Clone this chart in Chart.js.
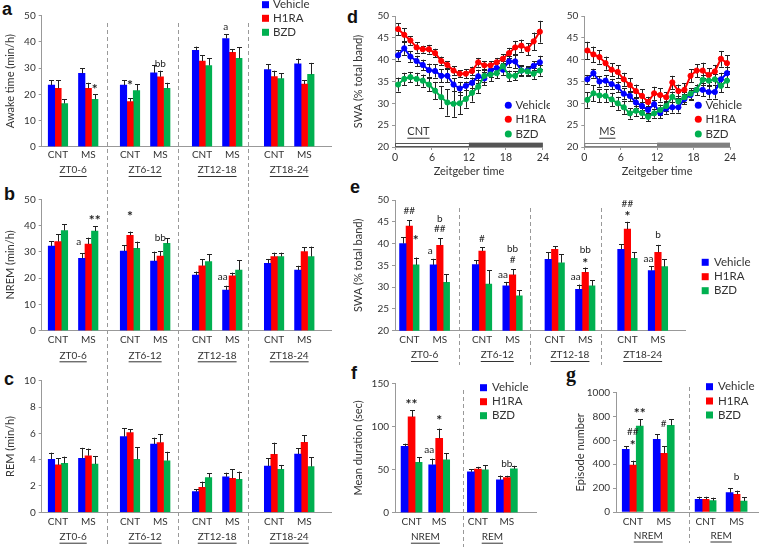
<!DOCTYPE html>
<html>
<head>
<meta charset="utf-8">
<script src="https://cdn.jsdelivr.net/npm/chart.js@4.4.1/dist/chart.umd.min.js"></script>
<style>
  body { margin: 0; background: #fff; width: 760px; height: 548px; position: relative; overflow: hidden; }
  .tag { position: absolute; font: bold 18px "Liberation Sans", Arial, sans-serif; line-height: 18px; color: #111; }
</style>
</head>
<body>
<div class="tag" style="left:2px;top:0px">a</div>
<div class="tag" style="left:4px;top:185px">b</div>
<div class="tag" style="left:4px;top:370px">c</div>
<div class="tag" style="left:347px;top:8px">d</div>
<div class="tag" style="left:350px;top:178px">e</div>
<div class="tag" style="left:351px;top:364px">f</div>
<div class="tag" style="left:566px;top:365px;font-family:'Liberation Serif',serif;font-size:20px">g</div>
<script>
const treatments = ['Vehicle', 'H1RA', 'BZD'];
const groupLabels = ['CNT', 'MS', 'CNT', 'MS', 'CNT', 'MS', 'CNT', 'MS'];
const ztLabels = ['ZT0-6', 'ZT6-12', 'ZT12-18', 'ZT18-24'];
const stageGroups = ['CNT', 'MS', 'CNT', 'MS'];
const stageLabels = ['NREM', 'REM'];
const hours = [0.5, 1.5, 2.5, 3.5, 4.5, 5.5, 6.5, 7.5, 8.5, 9.5, 10.5, 11.5,
               12.5, 13.5, 14.5, 15.5, 16.5, 17.5, 18.5, 19.5, 20.5, 21.5, 22.5, 23.5];
const hourTicks = [0, 6, 12, 18, 24];

// a: awake time (min/h) -- CNT, MS for each ZT block
const awakeVehicle = [23.5, 28.0, 23.5, 28.2, 36.8, 41.3, 29.4, 31.6];
const awakeVehicleErr = [1.9, 1.9, 1.9, 3.0, 1.4, 1.7, 2.0, 2.0];
const awakeH1RA = [22.3, 22.3, 17.2, 26.7, 32.7, 36.0, 26.8, 23.9];
const awakeH1RAErr = [3.1, 2.1, 1.2, 2.3, 2.3, 1.3, 2.2, 1.5];
const awakeBZD = [16.5, 18.1, 21.4, 22.3, 31.0, 33.7, 26.0, 27.6];
const awakeBZDErr = [1.6, 1.9, 2.5, 2.1, 2.7, 4.2, 2.1, 4.4];
const awakeMarks = [[2, 1, '*', 23.2], [1, 2, '*', 24.8], [1, 3, 'bb', 31.8], [0, 5, 'a', 45.8]];

// b: NREM (min/h)
const nremVehicle = [32.2, 27.5, 30.3, 26.5, 21.2, 15.5, 25.6, 23.1];
const nremVehicleErr = [1.9, 2.0, 2.3, 3.6, 1.3, 1.6, 1.7, 1.6];
const nremH1RA = [33.9, 33.0, 36.3, 28.4, 24.7, 20.9, 28.2, 30.1];
const nremH1RAErr = [2.8, 2.4, 1.4, 1.9, 2.5, 1.2, 1.5, 1.6];
const nremBZD = [38.1, 37.9, 31.3, 33.2, 26.3, 23.1, 28.2, 28.2];
const nremBZDErr = [2.4, 1.9, 2.6, 2.0, 2.8, 3.8, 1.5, 3.8];
const nremMarks = [[0, 1, 'a', 34.0, 'l'], [2, 1, '**', 43.4], [1, 2, '*', 44.7], [1, 3, 'bb', 35.2], [0, 5, 'aa', 20.6, 'l']];

// c: REM (min/h)
const remVehicle = [4.03, 4.1, 5.75, 5.19, 1.57, 2.7, 3.52, 4.43];
const remVehicleErr = [0.5, 0.8, 0.63, 0.48, 0.2, 0.31, 0.58, 0.43];
const remH1RA = [3.6, 4.3, 6.05, 5.29, 1.9, 2.58, 4.4, 5.32];
const remH1RAErr = [0.5, 0.54, 0.25, 0.66, 0.43, 0.69, 0.89, 0.55];
const remBZD = [3.72, 3.67, 4.03, 3.92, 2.63, 2.5, 3.27, 3.47];
const remBZDErr = [0.51, 0.61, 0.91, 0.68, 0.33, 0.59, 0.33, 0.71];

// d: hourly SWA (% total band), CNT and MS
const cntVehicle = [41.0, 42.6, 40.7, 39.7, 38.8, 37.6, 37.4, 36.3, 36.3, 34.3, 33.4, 34.0,
                    34.7, 36.2, 35.7, 37.5, 38.1, 37.7, 39.6, 39.6, 37.5, 37.5, 38.6, 39.4];
const cntVehicleErr = [1.2, 1.5, 1.2, 1.2, 1.2, 1.5, 1.5, 1.5, 1.5, 1.5, 1.5, 1.0,
                       1.2, 1.5, 1.5, 1.5, 1.2, 1.2, 1.2, 1.5, 1.2, 1.0, 1.0, 1.5];
const cntH1RA = [47.0, 45.7, 44.4, 42.8, 42.4, 42.4, 41.5, 39.7, 38.8, 37.5, 36.8, 36.8,
                 37.4, 39.4, 38.7, 38.7, 39.4, 40.2, 41.5, 42.8, 43.2, 42.4, 44.2, 46.4];
const cntH1RAErr = [1.4, 1.5, 1.0, 1.2, 0.8, 1.0, 1.0, 1.0, 0.8, 1.0, 0.8, 1.0,
                    1.0, 1.0, 1.0, 1.0, 1.0, 1.0, 1.2, 1.5, 1.4, 1.4, 2.0, 2.5];
const cntBZD = [34.3, 35.6, 36.0, 35.6, 35.2, 34.3, 32.9, 31.4, 30.2, 29.9, 30.0, 31.0,
                32.4, 33.8, 36.3, 36.6, 36.9, 38.5, 36.3, 36.3, 37.5, 37.3, 36.8, 37.5];
const cntBZDErr = [1.6, 1.4, 1.2, 1.4, 1.4, 1.5, 2.0, 2.5, 3.0, 3.0, 2.5, 2.0,
                   2.0, 1.5, 1.5, 1.5, 1.2, 1.2, 1.2, 1.0, 1.0, 1.0, 1.2, 1.2];
const msVehicle = [35.5, 36.9, 35.0, 35.2, 34.4, 33.8, 32.2, 31.7, 30.2, 29.4, 28.5, 29.8,
                   27.8, 28.8, 29.1, 29.1, 31.0, 31.9, 33.1, 33.1, 32.6, 32.6, 35.5, 36.9];
const msVehicleErr = [1.0, 1.0, 1.2, 1.2, 1.2, 1.2, 1.2, 1.2, 1.2, 1.0, 1.0, 1.0,
                      1.2, 1.2, 1.2, 1.2, 1.2, 1.2, 1.2, 1.5, 1.5, 1.5, 1.5, 1.5];
const msH1RA = [42.1, 41.2, 40.6, 39.2, 37.7, 37.2, 35.5, 34.2, 32.8, 31.7, 30.3, 32.3,
                31.9, 31.4, 34.8, 32.8, 33.1, 36.3, 37.5, 37.5, 36.5, 37.3, 40.2, 39.2];
const msH1RAErr = [2.0, 1.8, 1.5, 1.5, 1.5, 1.5, 1.5, 1.5, 1.5, 1.5, 1.2, 1.5,
                   1.5, 1.2, 1.5, 1.5, 1.5, 1.5, 1.5, 1.8, 1.5, 1.5, 1.8, 1.8];
const msBZD = [30.8, 32.3, 31.8, 31.7, 30.9, 30.0, 29.1, 27.7, 28.3, 27.8, 26.9, 27.7,
               28.5, 29.4, 31.5, 30.4, 31.4, 32.2, 33.1, 35.4, 35.2, 35.5, 34.0, 35.2];
const msBZDErr = [1.8, 1.8, 1.5, 1.5, 1.5, 1.5, 1.5, 1.2, 1.2, 1.2, 1.0, 1.0,
                  1.2, 1.2, 1.2, 1.2, 1.2, 1.2, 1.2, 1.2, 1.2, 1.2, 1.5, 1.5];

// e: SWA (% total band) per ZT block
const swaVehicle = [40.0, 35.1, 35.2, 30.3, 36.4, 29.5, 38.7, 33.8];
const swaVehicleErr = [1.4, 1.4, 1.0, 0.9, 1.6, 1.1, 1.1, 1.0];
const swaH1RA = [44.0, 39.6, 38.3, 32.8, 38.7, 33.4, 43.3, 38.0];
const swaH1RAErr = [1.4, 1.6, 0.8, 1.3, 0.7, 1.1, 1.7, 1.7];
const swaBZD = [35.1, 31.1, 30.7, 28.0, 35.6, 30.3, 36.6, 34.7];
const swaBZDErr = [1.7, 1.9, 3.2, 1.3, 1.9, 1.3, 1.4, 1.7];
const swaMarks = [[1, 0, '##', 47.5], [2, 0, '*', 41.6], [0, 1, 'a', 38.3, 'l'], [1, 1, '##', 43.5],
                  [1, 1, 'b', 45.6], [1, 2, '#', 41.2], [0, 3, 'aa', 32.9, 'l'], [1, 3, '#', 36.2],
                  [1, 3, 'bb', 38.7], [0, 5, 'aa', 32.4, 'l'], [1, 5, '*', 36.2], [1, 5, 'bb', 38.5],
                  [1, 6, '*', 47.1], [1, 6, '##', 49.1], [0, 7, 'aa', 36.6, 'l'], [1, 7, 'b', 42.0]];

// f: mean episode duration (sec) -- NREM CNT, NREM MS, REM CNT, REM MS
const durVehicle = [77, 55.6, 47.4, 38.1];
const durVehicleErr = [3, 7, 3.1, 5];
const durH1RA = [111, 86.3, 50.5, 40.8];
const durH1RAErr = [7.5, 11.2, 2.7, 2.0];
const durBZD = [58.3, 61.4, 49.7, 50.9];
const durBZDErr = [6.2, 7.8, 5.1, 3.5];
const durMarks = [[1, 0, '**', 129.4], [0, 1, 'aa', 73.1, 'l'], [1, 1, '*', 111.2], [1, 3, 'bb', 56.4]];

// g: episode number
const epiVehicle = [525, 609, 106, 162];
const epiVehicleErr = [28, 42, 22, 36];
const epiH1RA = [394, 492, 106, 148];
const epiH1RAErr = [36, 61, 22, 31];
const epiBZD = [720, 726, 95, 92];
const epiBZDErr = [57, 51, 25, 31];
const epiMarks = [[2, 0, '**', 855], [1, 0, '##', 673], [1, 0, '*', 589], [1, 1, '#', 743], [1, 3, 'b', 296]];

// ---- layout / style ----
const COLORS = ['#0000ff', '#ff0000', '#00b050'];
const FONT = 'Lato, "Open Sans", sans-serif';
const TEXT = '#333';
const AXIS = '#999';
const ztX = [0, 0.42, 1, 1.42, 2, 2.42, 3, 3.42];
const ztSeps = [0.68, 1.665, 2.635];

function makeCanvas(box) {
  const wrap = document.createElement('div');
  wrap.style.cssText = `position:absolute;left:${box[0]}px;top:${box[1]}px;width:${box[2]}px;height:${box[3]}px`;
  const c = document.createElement('canvas');
  c.width = box[2];
  c.height = box[3];
  wrap.appendChild(c);
  document.body.appendChild(wrap);
  return c;
}

function yAxis(o, width) {
  return {
    min: o.yMin || 0, max: o.yMax,
    ticks: { stepSize: o.yStep, color: TEXT, font: { family: FONT, size: 10 }, padding: 3, callback: v => String(v) },
    grid: { drawOnChartArea: false, tickLength: 3, color: AXIS },
    border: { color: AXIS },
    title: { display: !!o.title, text: o.title, padding: 0, color: TEXT, font: { family: FONT, size: 11 } },
    afterFit: s => { s.width = width; }
  };
}

function drawLegend(ctx, lg, box, circle) {
  ctx.save();
  ctx.font = `11.5px ${FONT}`;
  ctx.textBaseline = 'middle';
  ctx.textAlign = 'left';
  treatments.forEach((name, k) => {
    const y = lg.y[k] - box[1];
    ctx.fillStyle = COLORS[k];
    if (circle) {
      ctx.beginPath();
      ctx.arc(lg.mark - box[0], y, 3.5, 0, Math.PI * 2);
      ctx.fill();
    } else {
      ctx.fillRect(lg.mark - box[0], y - 3.5, 7, 7);
    }
    ctx.fillStyle = TEXT;
    ctx.fillText(name, lg.text - box[0], y);
  });
  ctx.restore();
}

function drawErrorBars(chart, both) {
  const ctx = chart.ctx, ys = chart.scales.y;
  ctx.save();
  ctx.strokeStyle = '#222';
  ctx.lineWidth = 1;
  chart.data.datasets.forEach((ds, k) => {
    chart.getDatasetMeta(k).data.forEach((el, i) => {
      const v = ds.data[i].y, e = ds.errors[i];
      const top = ys.getPixelForValue(v + e);
      const bot = ys.getPixelForValue(both ? v - e : v);
      const x = Math.round(el.x) + 0.5;
      ctx.beginPath();
      ctx.moveTo(x, bot);
      ctx.lineTo(x, top);
      ctx.moveTo(x - 2.5, Math.round(top) + 0.5);
      ctx.lineTo(x + 2.5, Math.round(top) + 0.5);
      if (both) {
        ctx.moveTo(x - 2.5, Math.round(bot) + 0.5);
        ctx.lineTo(x + 2.5, Math.round(bot) + 0.5);
      }
      ctx.stroke();
    });
  });
  ctx.restore();
}

function drawMarks(chart, marks) {
  const ctx = chart.ctx, ys = chart.scales.y;
  ctx.save();
  ctx.textAlign = 'center';
  ctx.textBaseline = 'middle';
  ctx.fillStyle = '#222';
  marks.forEach(([k, i, text, v, side]) => {
    const bar = chart.getDatasetMeta(k).data[i];
    const star = text.includes('*');
    const size = star ? 14 : 10;
    ctx.font = `${star ? 'bold ' : ''}${size}px ${FONT}`;
    ctx.fillText(text, bar.x + (side === 'l' ? -3 : 0), ys.getPixelForValue(v) + (star ? size * 0.25 : 0));
  });
  ctx.restore();
}

function drawUnderlined(ctx, text, x, y, size) {
  ctx.font = `${size}px ${FONT}`;
  ctx.textAlign = 'center';
  ctx.textBaseline = 'middle';
  ctx.fillStyle = TEXT;
  ctx.fillText(text, x, y);
  const w = ctx.measureText(text).width;
  ctx.fillRect(x - w / 2, y + 6, w, 1);
}

function barPanel(o) {
  const canvas = makeCanvas(o.box);
  const [bx, by, bw, bh] = o.box;
  const [px0, py0, px1, py1] = o.plot;
  const yLeft = o.titleX - 6.6;
  const xH = 20;
  const datasets = o.series.map((s, k) => ({
    label: treatments[k],
    data: s[0].map((v, i) => ({ x: o.xPos[i], y: v })),
    errors: s[1],
    backgroundColor: COLORS[k],
    barThickness: o.barW
  }));
  const decor = {
    id: 'decor',
    afterDatasetsDraw(chart) {
      const ctx = chart.ctx, xs = chart.scales.x;
      drawErrorBars(chart, false);
      drawMarks(chart, o.marks || []);
      ctx.save();
      ctx.setLineDash([4, 3]);
      ctx.strokeStyle = AXIS;
      ctx.lineWidth = 1;
      o.seps.forEach(v => {
        const x = Math.round(xs.getPixelForValue(v)) + 0.5;
        ctx.beginPath();
        ctx.moveTo(x, o.sepSpan[0] - by);
        ctx.lineTo(x, o.sepSpan[1] - by);
        ctx.stroke();
      });
      ctx.restore();
      ctx.save();
      o.sections.forEach((t, s) => {
        const x = xs.getPixelForValue((o.xPos[2 * s] + o.xPos[2 * s + 1]) / 2);
        drawUnderlined(ctx, t, x, o.sectionY - by, 10);
      });
      ctx.restore();
      if (o.legend) drawLegend(ctx, o.legend, o.box, false);
    }
  };
  return new Chart(canvas, {
    type: 'bar',
    data: { datasets },
    options: {
      responsive: false,
      animation: false,
      events: [],
      layout: { padding: { left: yLeft - bx, top: py0 - by, right: bx + bw - px1, bottom: by + bh - py1 - xH } },
      plugins: { legend: { display: false }, tooltip: { enabled: false } },
      scales: {
        x: {
          type: 'linear', min: o.xMin, max: o.xMax, offset: false,
          grid: { display: false, drawTicks: false, offset: false },
          border: { color: AXIS },
          afterBuildTicks: s => { s.ticks = o.xPos.map(v => ({ value: v })); },
          afterFit: s => { s.height = xH; },
          ticks: {
            autoSkip: false, maxRotation: 0, padding: o.labelPad, color: TEXT,
            font: { family: FONT, size: 10 },
            callback: (v, i) => o.xLabels[i]
          }
        },
        y: yAxis(o, px0 - yLeft)
      }
    },
    plugins: [decor]
  });
}

function swaLinePanel(o) {
  const canvas = makeCanvas(o.box);
  const [bx, by, bw, bh] = o.box;
  const [px0, py0, px1, py1] = o.plot;
  const yLeft = o.titleX ? o.titleX - 6.6 : bx + 4;
  const xH = 31;
  const datasets = o.series.map((s, k) => ({
    label: treatments[k],
    data: s[0].map((v, i) => ({ x: hours[i], y: v })),
    errors: s[1],
    borderColor: COLORS[k],
    backgroundColor: COLORS[k],
    borderWidth: 2,
    pointRadius: 2.6,
    pointBorderWidth: 1,
    tension: 0,
    order: 2 - k
  }));
  const decor = {
    id: 'decor',
    beforeDatasetsDraw(chart) {
      const ctx = chart.ctx, xs = chart.scales.x, ys = chart.scales.y;
      const y0 = ys.getPixelForValue(21), y1 = ys.getPixelForValue(20);
      const x0 = xs.getPixelForValue(hourTicks[0]), xm = xs.getPixelForValue(hourTicks[2]), x1 = xs.getPixelForValue(hourTicks[4]);
      ctx.save();
      ctx.fillStyle = o.dark;
      ctx.fillRect(xm, y0, x1 - xm, y1 - y0);
      ctx.strokeStyle = o.dark;
      ctx.lineWidth = 1;
      ctx.strokeRect(x0 + 0.5, Math.round(y0) + 0.5, xm - x0, Math.round(y1 - y0) - 1);
      ctx.restore();
      drawErrorBars(chart, true);
    },
    afterDatasetsDraw(chart) {
      const ctx = chart.ctx, xs = chart.scales.x, ys = chart.scales.y;
      ctx.save();
      drawUnderlined(ctx, o.name, xs.getPixelForValue(3.8), ys.getPixelForValue(23.5), 11);
      ctx.restore();
      drawLegend(ctx, o.legend, o.box, true);
    }
  };
  return new Chart(canvas, {
    type: 'line',
    data: { datasets },
    options: {
      responsive: false,
      animation: false,
      events: [],
      layout: { padding: { left: yLeft - bx, top: py0 - by, right: bx + bw - px1, bottom: by + bh - py1 - xH } },
      plugins: { legend: { display: false }, tooltip: { enabled: false } },
      scales: {
        x: {
          type: 'linear', min: 0, max: 24,
          grid: { drawOnChartArea: false, tickLength: 3, color: AXIS },
          border: { color: AXIS },
          afterBuildTicks: s => { s.ticks = hourTicks.map(v => ({ value: v })); },
          afterFit: s => { s.height = xH; },
          ticks: { autoSkip: false, maxRotation: 0, padding: 1, color: TEXT, font: { family: FONT, size: 10.5 } },
          title: { display: true, text: 'Zeitgeber time', padding: 0, color: TEXT, font: { family: FONT, size: 11 } }
        },
        y: yAxis(o, px0 - yLeft)
      }
    },
    plugins: [decor]
  });
}

// a, b, c
barPanel({
  box: [0, 0, 345, 183], plot: [41.7, 15.7, 331.7, 146.7], titleX: 10, title: 'Awake time (min/h)',
  yMax: 50, yStep: 10, xPos: ztX, xMin: -0.226, xMax: 3.8, xLabels: groupLabels, labelPad: 2.5, barW: 6.5,
  series: [[awakeVehicle, awakeVehicleErr], [awakeH1RA, awakeH1RAErr], [awakeBZD, awakeBZDErr]],
  marks: awakeMarks, seps: ztSeps, sepSpan: [23, 183], sections: ztLabels, sectionY: 170,
  legend: { mark: 262, text: 273, y: [4.7, 18.3, 32.3] }
});
barPanel({
  box: [0, 183, 345, 182], plot: [41.7, 199.3, 331.7, 330.7], titleX: 10, title: 'NREM (min/h)',
  yMax: 50, yStep: 10, xPos: ztX, xMin: -0.226, xMax: 3.8, xLabels: groupLabels, labelPad: 3, barW: 6.5,
  series: [[nremVehicle, nremVehicleErr], [nremH1RA, nremH1RAErr], [nremBZD, nremBZDErr]],
  marks: nremMarks, seps: ztSeps, sepSpan: [183, 365], sections: ztLabels, sectionY: 355.3
});
barPanel({
  box: [0, 365, 345, 183], plot: [41.7, 380.7, 331.7, 512.3], titleX: 10, title: 'REM (min/h)',
  yMax: 10, yStep: 2, xPos: ztX, xMin: -0.226, xMax: 3.8, xLabels: groupLabels, labelPad: 3, barW: 6.5,
  series: [[remVehicle, remVehicleErr], [remH1RA, remH1RAErr], [remBZD, remBZDErr]],
  marks: [], seps: ztSeps, sepSpan: [365, 547], sections: ztLabels, sectionY: 536.7
});

// d
swaLinePanel({
  box: [345, 0, 205, 183], plot: [395, 16, 543, 147], titleX: 358, title: 'SWA (% total band)',
  yMin: 20, yMax: 50, yStep: 5, name: 'CNT', dark: '#555',
  series: [[cntVehicle, cntVehicleErr], [cntH1RA, cntH1RAErr], [cntBZD, cntBZDErr]],
  legend: { mark: 508.3, text: 515.5, y: [105.3, 119.3, 134] }
});
swaLinePanel({
  box: [550, 0, 210, 183], plot: [584.3, 16, 730, 147], titleX: 0,
  yMin: 20, yMax: 50, yStep: 5, name: 'MS', dark: '#808080',
  series: [[msVehicle, msVehicleErr], [msH1RA, msH1RAErr], [msBZD, msBZDErr]],
  legend: { mark: 698.3, text: 705.5, y: [105.3, 119.3, 134] }
});

// e
barPanel({
  box: [345, 183, 415, 182], plot: [395, 200, 685, 330.7], titleX: 358, title: 'SWA (% total band)',
  yMin: 20, yMax: 50, yStep: 5, xPos: ztX, xMin: -0.197, xMax: 3.792, xLabels: groupLabels, labelPad: 3, barW: 6.5,
  series: [[swaVehicle, swaVehicleErr], [swaH1RA, swaH1RAErr], [swaBZD, swaBZDErr]],
  marks: swaMarks, seps: ztSeps, sepSpan: [208, 367], sections: ztLabels, sectionY: 355,
  legend: { mark: 701.7, text: 714, y: [262.3, 276.7, 290.7] }
});

// f, g
barPanel({
  box: [345, 365, 210, 183], plot: [395, 383.3, 536.7, 512.7], titleX: 358, title: 'Mean duration (sec)',
  yMax: 150, yStep: 50, xPos: [0, 1, 2.4, 3.45], xMin: -0.6, xMax: 4.53, xLabels: stageGroups, labelPad: 3, barW: 7,
  series: [[durVehicle, durVehicleErr], [durH1RA, durH1RAErr], [durBZD, durBZDErr]],
  marks: durMarks, seps: [1.85], sepSpan: [390, 547], sections: stageLabels, sectionY: 536.7,
  legend: { mark: 480, text: 492, y: [387.7, 401.7, 415.7] }
});
barPanel({
  box: [555, 365, 205, 183], plot: [616, 392.7, 758, 512], titleX: 580, title: 'Episode number',
  yMax: 1000, yStep: 200, xPos: [0, 1, 2.35, 3.35], xMin: -0.54, xMax: 4.04, xLabels: stageGroups, labelPad: 3.5, barW: 7,
  series: [[epiVehicle, epiVehicleErr], [epiH1RA, epiH1RAErr], [epiBZD, epiBZDErr]],
  marks: epiMarks, seps: [1.83], sepSpan: [387, 543], sections: stageLabels, sectionY: 535.5,
  legend: { mark: 706, text: 718, y: [386.7, 401, 415] }
});
</script>
</body>
</html>
